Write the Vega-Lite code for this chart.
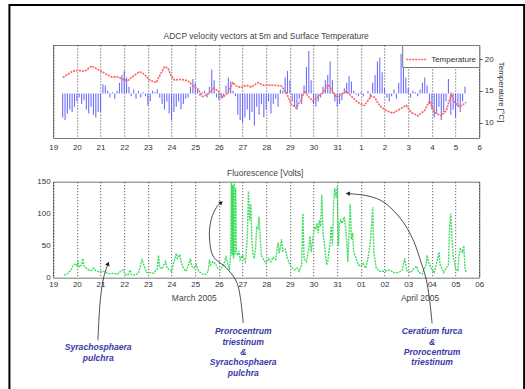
{
  "$schema": "https://vega.github.io/schema/vega-lite/v6.json",
  "padding": {"left": 7.2, "top": 3, "right": 0, "bottom": 0},
  "spacing": 43.7,
  "bounds": "flush",
  "config": {
    "font": "Liberation Sans",
    "view": {"stroke": "#777", "strokeWidth": 1},
    "axis": {"labelFontSize": 8, "labelColor": "#333", "titleFontSize": 8, "titleFontWeight": "normal", "titleColor": "#333", "domain": false, "ticks": false, "tickSize": 0, "labelFlush": false, "labelOverlap": false},
    "title": {"fontSize": 8.5, "fontWeight": "normal", "color": "#444"}
  },
  "datasets": {
    "velocity": [
      {"day":19.4,"v":-18},{"day":19.5,"v":-20},{"day":19.6,"v":-15},{"day":19.7,"v":-12},{"day":19.8,"v":-14},{"day":19.9,"v":-10},
      {"day":20.0,"v":-6},{"day":20.1,"v":-3},{"day":20.2,"v":-8},{"day":20.3,"v":-5},{"day":20.4,"v":-12},{"day":20.5,"v":-15},{"day":20.6,"v":-10},{"day":20.7,"v":-16},{"day":20.8,"v":-18},{"day":20.9,"v":-14},
      {"day":21.0,"v":-14},{"day":21.1,"v":7},{"day":21.2,"v":6},{"day":21.3,"v":2},{"day":21.4,"v":-3},{"day":21.5,"v":1},{"day":21.6,"v":-4},{"day":21.7,"v":2},{"day":21.8,"v":8},{"day":21.9,"v":14},
      {"day":22.0,"v":17},{"day":22.1,"v":12},{"day":22.2,"v":5},{"day":22.3,"v":-2},{"day":22.4,"v":3},{"day":22.5,"v":-4},{"day":22.6,"v":2},{"day":22.7,"v":-3},{"day":22.8,"v":1},{"day":22.9,"v":-2},
      {"day":23.0,"v":-9},{"day":23.1,"v":-6},{"day":23.2,"v":2},{"day":23.3,"v":1},{"day":23.4,"v":3},{"day":23.5,"v":-3},{"day":23.6,"v":-8},{"day":23.7,"v":-12},{"day":23.8,"v":-6},{"day":23.9,"v":-15},
      {"day":24.0,"v":-20},{"day":24.1,"v":-14},{"day":24.2,"v":-10},{"day":24.3,"v":-6},{"day":24.4,"v":-12},{"day":24.5,"v":-8},{"day":24.6,"v":-4},{"day":24.7,"v":-3},{"day":24.8,"v":5},{"day":24.9,"v":11},
      {"day":25.0,"v":8},{"day":25.1,"v":3},{"day":25.2,"v":-2},{"day":25.3,"v":1},{"day":25.4,"v":2},{"day":25.5,"v":-3},{"day":25.6,"v":5},{"day":25.7,"v":18},{"day":25.8,"v":10},{"day":25.9,"v":-3},
      {"day":26.0,"v":-5},{"day":26.1,"v":-4},{"day":26.2,"v":-2},{"day":26.3,"v":6},{"day":26.4,"v":12},{"day":26.5,"v":9},{"day":26.6,"v":2},{"day":26.7,"v":-2},{"day":26.8,"v":-16},{"day":26.9,"v":-20},
      {"day":27.0,"v":-22},{"day":27.1,"v":-18},{"day":27.2,"v":-12},{"day":27.3,"v":-20},{"day":27.4,"v":-14},{"day":27.5,"v":-24},{"day":27.6,"v":-10},{"day":27.7,"v":-16},{"day":27.8,"v":-8},{"day":27.9,"v":-18},
      {"day":28.0,"v":-12},{"day":28.1,"v":-6},{"day":28.2,"v":-15},{"day":28.3,"v":-8},{"day":28.4,"v":-4},{"day":28.5,"v":-10},{"day":28.6,"v":3},{"day":28.7,"v":2},{"day":28.8,"v":12},{"day":28.9,"v":17},
      {"day":29.0,"v":10},{"day":29.1,"v":-6},{"day":29.2,"v":-10},{"day":29.3,"v":-12},{"day":29.4,"v":-4},{"day":29.5,"v":-8},{"day":29.6,"v":6},{"day":29.7,"v":20},{"day":29.8,"v":32},{"day":29.9,"v":10},
      {"day":30.0,"v":-8},{"day":30.1,"v":-10},{"day":30.2,"v":-6},{"day":30.3,"v":-3},{"day":30.4,"v":5},{"day":30.5,"v":10},{"day":30.6,"v":14},{"day":30.7,"v":24},{"day":30.8,"v":10},{"day":30.9,"v":-6},
      {"day":31.0,"v":-10},{"day":31.1,"v":-8},{"day":31.2,"v":-5},{"day":31.3,"v":4},{"day":31.4,"v":8},{"day":31.5,"v":13},{"day":31.6,"v":9},{"day":31.7,"v":2},{"day":31.8,"v":-1},{"day":31.9,"v":-2},
      {"day":32.0,"v":1},{"day":32.1,"v":-2},{"day":32.2,"v":0},{"day":32.3,"v":2},{"day":32.4,"v":-3},{"day":32.5,"v":8},{"day":32.6,"v":14},{"day":32.7,"v":24},{"day":32.8,"v":27},{"day":32.9,"v":16},
      {"day":33.0,"v":4},{"day":33.1,"v":-3},{"day":33.2,"v":-6},{"day":33.3,"v":-2},{"day":33.4,"v":3},{"day":33.5,"v":-4},{"day":33.6,"v":8},{"day":33.7,"v":30},{"day":33.8,"v":36},{"day":33.9,"v":12},
      {"day":34.0,"v":4},{"day":34.1,"v":-3},{"day":34.2,"v":2},{"day":34.3,"v":1},{"day":34.4,"v":-2},{"day":34.5,"v":3},{"day":34.6,"v":8},{"day":34.7,"v":12},{"day":34.8,"v":6},{"day":34.9,"v":-8},
      {"day":35.0,"v":-12},{"day":35.1,"v":-18},{"day":35.2,"v":-15},{"day":35.3,"v":-10},{"day":35.4,"v":-20},{"day":35.5,"v":-14},{"day":35.6,"v":-6},{"day":35.7,"v":11},{"day":35.8,"v":-16},{"day":35.9,"v":-12},
      {"day":36.0,"v":-18},{"day":36.1,"v":-10},{"day":36.2,"v":-14},{"day":36.3,"v":-6},{"day":36.4,"v":5}
    ],
    "temperature": [
      {"day":19.41,"temp":17.1},{"day":19.62,"temp":17.6},{"day":19.83,"temp":18.1},{"day":20.04,"temp":18.2},{"day":20.25,"temp":18.1},{"day":20.39,"temp":18.2},{"day":20.61,"temp":18.9},{"day":20.82,"temp":18.5},
      {"day":21.03,"temp":18.1},{"day":21.24,"temp":17.6},{"day":21.45,"temp":17.2},{"day":21.73,"temp":17.2},{"day":21.94,"temp":16.8},{"day":22.15,"temp":16.6},{"day":22.37,"temp":17.3},{"day":22.65,"temp":18.0},
      {"day":22.86,"temp":17.6},{"day":23.07,"temp":16.7},{"day":23.35,"temp":16.3},{"day":23.49,"temp":17.3},{"day":23.7,"temp":18.75},{"day":23.85,"temp":18.6},{"day":23.99,"temp":17.3},{"day":24.13,"temp":16.7},
      {"day":24.41,"temp":16.8},{"day":24.69,"temp":16.6},{"day":24.9,"temp":15.8},{"day":25.11,"temp":15.3},{"day":25.32,"temp":14.1},{"day":25.54,"temp":14.5},{"day":25.75,"temp":15.5},{"day":25.96,"temp":15.0},
      {"day":26.17,"temp":14.0},{"day":26.38,"temp":14.7},{"day":26.59,"temp":16.3},{"day":26.73,"temp":15.8},{"day":26.94,"temp":15.5},{"day":27.15,"temp":15.9},{"day":27.37,"temp":15.6},{"day":27.65,"temp":16.3},
      {"day":27.86,"temp":15.9},{"day":28.21,"temp":15.9},{"day":28.63,"temp":15.8},{"day":28.85,"temp":14.7},{"day":29.06,"temp":12.9},{"day":29.27,"temp":12.3},{"day":29.48,"temp":13.7},{"day":29.62,"temp":15.0},
      {"day":29.76,"temp":14.2},{"day":29.97,"temp":13.4},{"day":30.18,"temp":14.0},{"day":30.39,"temp":14.7},{"day":30.61,"temp":16.0},{"day":30.75,"temp":15.3},{"day":30.96,"temp":14.0},{"day":31.17,"temp":14.5},
      {"day":31.38,"temp":14.9},{"day":31.59,"temp":14.2},{"day":31.87,"temp":13.2},{"day":32.15,"temp":12.7},{"day":32.44,"temp":14.2},{"day":32.58,"temp":14.0},{"day":32.79,"temp":12.7},{"day":33.07,"temp":11.9},
      {"day":33.35,"temp":11.5},{"day":33.63,"temp":12.1},{"day":33.92,"temp":12.7},{"day":34.13,"temp":11.6},{"day":34.41,"temp":11.1},{"day":34.69,"temp":11.9},{"day":34.9,"temp":13.4},{"day":35.11,"temp":11.6},
      {"day":35.39,"temp":11.1},{"day":35.61,"temp":11.9},{"day":35.82,"temp":14.5},{"day":35.96,"temp":13.2},{"day":36.17,"temp":12.5},{"day":36.45,"temp":13.2}
    ],
    "fluorescence": [
      {"day":19.45,"f":4},{"day":19.6,"f":6},{"day":19.75,"f":12},{"day":19.85,"f":20},{"day":19.95,"f":22},{"day":20.0,"f":18},{"day":20.05,"f":24},{"day":20.1,"f":17},{"day":20.2,"f":20},{"day":20.25,"f":30},
      {"day":20.3,"f":18},{"day":20.4,"f":15},{"day":20.5,"f":12},{"day":20.6,"f":11},{"day":20.7,"f":15},{"day":20.8,"f":11},{"day":20.95,"f":9},{"day":21.1,"f":10},{"day":21.25,"f":8},{"day":21.4,"f":6},
      {"day":21.55,"f":7},{"day":21.7,"f":5},{"day":21.85,"f":10},{"day":21.95,"f":12},{"day":22.05,"f":5},{"day":22.15,"f":4},{"day":22.25,"f":12},{"day":22.3,"f":5},{"day":22.45,"f":4},{"day":22.6,"f":7},
      {"day":22.75,"f":28},{"day":22.85,"f":18},{"day":22.95,"f":8},{"day":23.1,"f":8},{"day":23.25,"f":7},{"day":23.4,"f":14},{"day":23.45,"f":35},{"day":23.5,"f":16},{"day":23.6,"f":14},{"day":23.75,"f":25},
      {"day":23.8,"f":16},{"day":23.9,"f":12},{"day":24.0,"f":10},{"day":24.1,"f":24},{"day":24.2,"f":38},{"day":24.25,"f":30},{"day":24.35,"f":36},{"day":24.4,"f":25},{"day":24.5,"f":15},{"day":24.6,"f":10},
      {"day":24.7,"f":18},{"day":24.8,"f":30},{"day":24.85,"f":18},{"day":24.95,"f":15},{"day":25.05,"f":20},{"day":25.15,"f":10},{"day":25.3,"f":6},{"day":25.45,"f":5},{"day":25.55,"f":10},{"day":25.6,"f":28},
      {"day":25.65,"f":20},{"day":25.75,"f":25},{"day":25.85,"f":22},{"day":25.95,"f":15},{"day":26.05,"f":12},{"day":26.2,"f":20},{"day":26.3,"f":32},{"day":26.35,"f":25},{"day":26.45,"f":12},{"day":26.5,"f":40},
      {"day":26.53,"f":148},{"day":26.56,"f":35},{"day":26.59,"f":145},{"day":26.62,"f":30},{"day":26.65,"f":150},{"day":26.68,"f":35},{"day":26.71,"f":140},{"day":26.74,"f":40},{"day":26.8,"f":35},{"day":26.85,"f":42},
      {"day":26.9,"f":28},{"day":27.0,"f":35},{"day":27.05,"f":30},{"day":27.12,"f":25},{"day":27.2,"f":60},{"day":27.25,"f":135},{"day":27.3,"f":90},{"day":27.35,"f":115},{"day":27.4,"f":55},{"day":27.45,"f":35},
      {"day":27.5,"f":30},{"day":27.55,"f":45},{"day":27.6,"f":80},{"day":27.65,"f":75},{"day":27.7,"f":95},{"day":27.75,"f":60},{"day":27.8,"f":35},{"day":27.9,"f":28},{"day":28.0,"f":22},{"day":28.1,"f":30},
      {"day":28.2,"f":25},{"day":28.3,"f":32},{"day":28.4,"f":28},{"day":28.5,"f":55},{"day":28.55,"f":38},{"day":28.65,"f":60},{"day":28.7,"f":42},{"day":28.8,"f":45},{"day":28.9,"f":30},{"day":29.0,"f":20},
      {"day":29.1,"f":15},{"day":29.2,"f":12},{"day":29.3,"f":15},{"day":29.4,"f":10},{"day":29.5,"f":20},{"day":29.55,"f":100},{"day":29.6,"f":30},{"day":29.7,"f":25},{"day":29.8,"f":45},{"day":29.85,"f":65},
      {"day":29.9,"f":40},{"day":30.0,"f":70},{"day":30.05,"f":80},{"day":30.1,"f":75},{"day":30.15,"f":85},{"day":30.2,"f":70},{"day":30.25,"f":90},{"day":30.3,"f":80},{"day":30.35,"f":130},{"day":30.4,"f":70},
      {"day":30.45,"f":55},{"day":30.5,"f":40},{"day":30.55,"f":20},{"day":30.6,"f":25},{"day":30.7,"f":55},{"day":30.75,"f":80},{"day":30.8,"f":50},{"day":30.85,"f":120},{"day":30.9,"f":140},{"day":30.95,"f":125},
      {"day":31.0,"f":142},{"day":31.05,"f":50},{"day":31.1,"f":85},{"day":31.15,"f":90},{"day":31.2,"f":85},{"day":31.3,"f":95},{"day":31.35,"f":80},{"day":31.4,"f":60},{"day":31.45,"f":25},{"day":31.5,"f":70},
      {"day":31.55,"f":115},{"day":31.6,"f":60},{"day":31.65,"f":70},{"day":31.7,"f":40},{"day":31.8,"f":30},{"day":31.9,"f":20},{"day":32.0,"f":18},{"day":32.1,"f":22},{"day":32.2,"f":15},{"day":32.3,"f":30},
      {"day":32.4,"f":55},{"day":32.45,"f":80},{"day":32.5,"f":110},{"day":32.55,"f":40},{"day":32.65,"f":15},{"day":32.8,"f":10},{"day":33.0,"f":10},{"day":33.2,"f":12},{"day":33.4,"f":8},{"day":33.6,"f":8},
      {"day":33.75,"f":12},{"day":33.85,"f":30},{"day":33.95,"f":10},{"day":34.1,"f":8},{"day":34.25,"f":15},{"day":34.35,"f":18},{"day":34.45,"f":8},{"day":34.6,"f":6},{"day":34.75,"f":20},{"day":34.8,"f":35},
      {"day":34.85,"f":25},{"day":35.0,"f":12},{"day":35.1,"f":8},{"day":35.25,"f":30},{"day":35.3,"f":40},{"day":35.35,"f":20},{"day":35.5,"f":8},{"day":35.6,"f":15},{"day":35.7,"f":20},{"day":35.75,"f":80},
      {"day":35.8,"f":100},{"day":35.85,"f":60},{"day":35.9,"f":35},{"day":36.0,"f":15},{"day":36.1,"f":10},{"day":36.15,"f":35},{"day":36.2,"f":45},{"day":36.3,"f":40},{"day":36.35,"f":50},{"day":36.4,"f":15},{"day":36.45,"f":8}
    ],
    "arrows": [
      {"arrow":1,"i":0,"day":20.89,"f":-97.8},{"arrow":1,"i":1,"day":20.94,"f":-59.8},{"arrow":1,"i":2,"day":21.0,"f":-31.3},{"arrow":1,"i":3,"day":21.1,"f":-5.2},{"arrow":1,"i":4,"day":21.21,"f":10.5},{"arrow":1,"i":5,"day":21.3,"f":20},
      {"arrow":2,"i":0,"day":27.03,"f":-70.8},{"arrow":2,"i":1,"day":26.91,"f":-31.3},{"arrow":2,"i":2,"day":26.73,"f":-5.2},{"arrow":2,"i":3,"day":26.31,"f":15.6},{"arrow":2,"i":4,"day":25.75,"f":33.9},{"arrow":2,"i":5,"day":25.6,"f":65.2},{"arrow":2,"i":6,"day":25.68,"f":91.3},{"arrow":2,"i":7,"day":25.89,"f":109.4},{"arrow":2,"i":8,"day":26.05,"f":116},
      {"arrow":3,"i":0,"day":35.01,"f":-71.3},{"arrow":3,"i":1,"day":34.9,"f":-33.3},{"arrow":3,"i":2,"day":34.76,"f":-2.5},{"arrow":3,"i":3,"day":34.55,"f":23.4},{"arrow":3,"i":4,"day":34.2,"f":60},{"arrow":3,"i":5,"day":33.7,"f":91.3},{"arrow":3,"i":6,"day":33.0,"f":117.2},{"arrow":3,"i":7,"day":32.3,"f":127.7},{"arrow":3,"i":8,"day":31.5,"f":131.3}
    ],
    "arrowheads": [
      {"arrow":1,"day":21.32,"f":22,"heading":25},
      {"arrow":2,"day":26.1,"f":117.5,"heading":50},
      {"arrow":3,"day":31.45,"f":131.5,"heading":-83}
    ],
    "notes": [
      {"day":20.9,"f":-102.8,"label":"Syrachosphaera\npulchra"},
      {"day":27.03,"f":-77.8,"label":"Prorocentrum\ntriestinum\n&\nSyrachosphaera\npulchra"},
      {"day":35.01,"f":-77.8,"label":"Ceratium furca\n&\nProrocentrum\ntriestinum"}
    ],
    "captions": [
      {"day":24.96,"f":-31.7,"label":"March 2005"},
      {"day":34.5,"f":-31.7,"label":"April 2005"},
      {"day":27.96,"f":164,"label":"Fluorescence [Volts]"}
    ],
    "slide": [
      {"day":17.15,"day_end":38.9,"f":426,"f_end":-200}
    ]
  },
  "vconcat": [
    {
      "width": 426,
      "height": 93,
      "title": {"text": "ADCP velocity vectors at 5m and Surface Temperature", "offset": 5},
      "encoding": {
        "x": {
          "field": "day", "type": "quantitative",
          "scale": {"domain": [19, 37], "nice": false, "zero": false},
          "axis": {"values": [19,20,21,22,23,24,25,26,27,28,29,30,31,32,33,34,35,36,37], "labelExpr": "'' + (datum.value > 31 ? datum.value - 31 : datum.value)", "grid": true, "gridDash": [1, 2], "gridColor": "#000", "gridOpacity": 0.75, "labelPadding": 5, "title": null}
        }
      },
      "layer": [
        {
          "data": {"name": "velocity"},
          "mark": {"type": "rule", "color": "#5555ff", "strokeWidth": 1.1, "opacity": 0.85},
          "encoding": {
            "y": {"field": "v", "type": "quantitative", "scale": {"domain": [-33.5, 36.5], "nice": false, "zero": false}, "axis": null},
            "y2": {"datum": 0}
          }
        },
        {
          "data": {"name": "temperature"},
          "mark": {"type": "line", "strokeWidth": 1.7, "strokeDash": [2, 1]},
          "encoding": {
            "y": {"field": "temp", "type": "quantitative", "scale": {"domain": [7.6, 22.2], "nice": false, "zero": false},
                  "axis": {"orient": "right", "values": [10, 15, 20], "grid": false, "title": "Temperature [°C]", "ticks": true, "tickSize": 3, "tickColor": "#555", "labelPadding": 2, "titlePadding": 3}},
            "color": {"datum": "Temperature", "type": "nominal", "scale": {"range": ["#ff6464"]},
                      "legend": {"title": null, "orient": "top-right", "offset": 0, "padding": 3, "strokeColor": "#777", "fillColor": "white", "symbolType": "stroke", "symbolSize": 441, "symbolStrokeWidth": 1.7, "symbolDash": [2, 1], "labelFontSize": 8, "labelColor": "#333", "labelOffset": 3, "cornerRadius": 0}}
          }
        }
      ],
      "resolve": {"scale": {"y": "independent"}}
    },
    {
      "width": 426,
      "height": 96,
      "encoding": {
        "x": {
          "field": "day", "type": "quantitative",
          "scale": {"domain": [19, 37], "nice": false, "zero": false},
          "axis": {"values": [19,20,21,22,23,24,25,26,27,28,29,30,31,32,33,34,35,36,37], "labelExpr": "datum.value > 31 ? '0' + (datum.value - 31) : '' + datum.value", "grid": true, "gridDash": [1, 2], "gridColor": "#000", "gridOpacity": 0.75, "labelPadding": 3, "title": null}
        },
        "y": {
          "field": "f", "type": "quantitative",
          "scale": {"domain": [0, 150], "nice": false},
          "axis": {"values": [0, 50, 100, 150], "grid": false, "labelPadding": 3, "title": null}
        }
      },
      "layer": [
        {
          "data": {"name": "slide"},
          "mark": {"type": "rect", "fill": "transparent", "stroke": "#000", "strokeWidth": 2, "clip": false},
          "encoding": {
            "x2": {"field": "day_end"},
            "y2": {"field": "f_end"}
          }
        },
        {
          "data": {"name": "fluorescence"},
          "mark": {"type": "line", "color": "#40dc60", "strokeWidth": 1.4, "strokeDash": [2, 1]}
        },
        {
          "data": {"name": "arrows"},
          "mark": {"type": "line", "interpolate": "cardinal", "color": "#222", "strokeWidth": 0.8, "clip": false},
          "encoding": {"detail": {"field": "arrow", "type": "nominal"}, "order": {"field": "i", "type": "quantitative"}}
        },
        {
          "data": {"name": "arrowheads"},
          "mark": {"type": "point", "shape": "triangle-up", "filled": true, "color": "#222", "opacity": 1, "size": 22, "clip": false},
          "encoding": {"angle": {"field": "heading", "type": "quantitative", "scale": null}}
        },
        {
          "data": {"name": "notes"},
          "mark": {"type": "text", "align": "center", "baseline": "top", "fontSize": 8.6, "fontStyle": "italic", "fontWeight": "bold", "color": "#3a3aa8", "lineBreak": "\n", "lineHeight": 10.3, "clip": false},
          "encoding": {"text": {"field": "label", "type": "nominal"}}
        },
        {
          "data": {"name": "captions"},
          "mark": {"type": "text", "align": "center", "baseline": "middle", "fontSize": 8.5, "color": "#444", "clip": false},
          "encoding": {"text": {"field": "label", "type": "nominal"}}
        }
      ]
    }
  ]
}
